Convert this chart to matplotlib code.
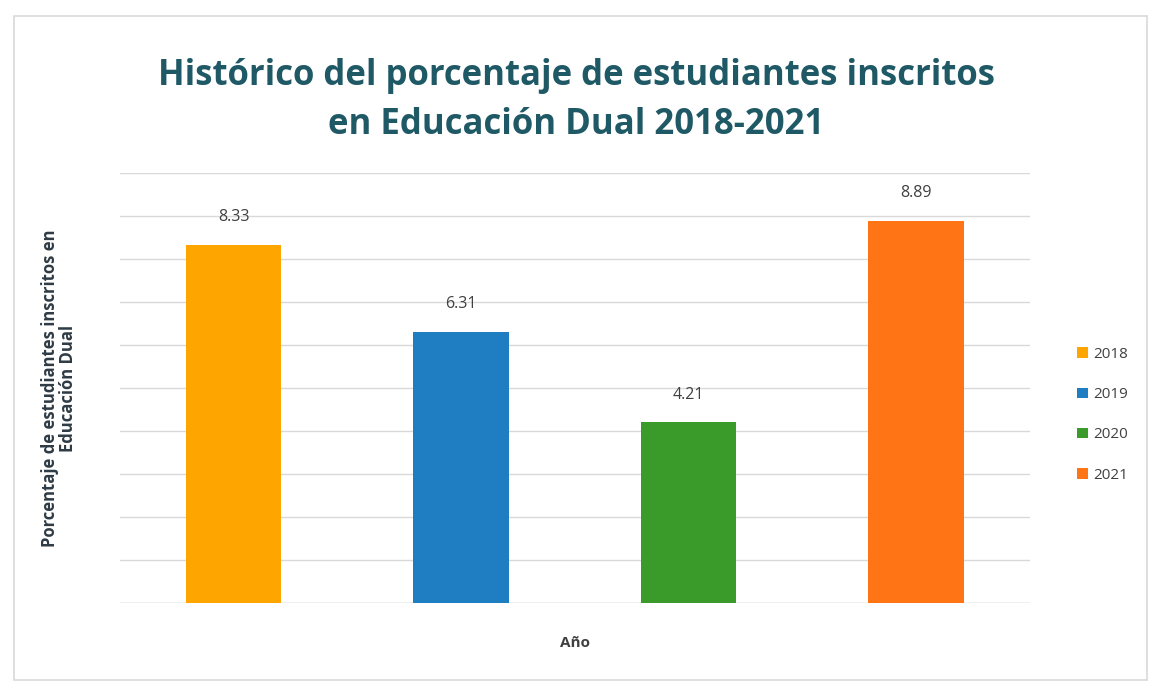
import matplotlib
matplotlib.use("Agg")
import matplotlib.pyplot as plt
from matplotlib.patches import Patch, Rectangle

years = ["2018", "2019", "2020", "2021"]
values = [8.33, 6.31, 4.21, 8.89]
colors = ["#FFA500", "#1F7EC1", "#3A9A2A", "#FF7414"]

plt.rcParams["font.family"] = ["Open Sans", "DejaVu Sans"]

fig = plt.figure(figsize=(11.53, 6.88), dpi=100)
fig.patch.set_facecolor("white")
fig.patches.append(Rectangle((0.012, 0.012), 0.983, 0.965, transform=fig.transFigure,
                             fill=False, edgecolor="#d9d9d9", linewidth=1.2))

ax = fig.add_axes([0.104, 0.1235, 0.789, 0.625])
x = list(range(len(years)))
bars = ax.bar(x, values, width=0.42, color=colors, zorder=3)

for xi, v in zip(x, values):
    ax.text(xi, v + 0.45, f"{v:.2f}", ha="center", va="bottom",
            fontsize=11.5, color="#404040")

ax.set_ylim(0, 10)
ax.set_xlim(-0.5, 3.5)
ax.set_yticks(range(0, 11))
ax.yaxis.grid(True, color="#d9d9d9", linewidth=1, zorder=0)
ax.set_xticks([])
ax.tick_params(axis="y", length=0, labelleft=False)
for s in ax.spines.values():
    s.set_visible(False)
ax.axhline(0, color="#d0d0d0", linewidth=1, zorder=2)

ax.set_xlabel("Año", fontsize=11, fontweight="bold", color="#404040", labelpad=24)
ax.set_ylabel("Porcentaje de estudiantes inscritos en\nEducación Dual", fontsize=12,
              fontweight="bold", color="#2e3b44", linespacing=1.0)
ax.yaxis.set_label_coords(-0.047, 0.5)

fig.suptitle("Histórico del porcentaje de estudiantes inscritos\nen Educación Dual 2018-2021",
             x=0.5, y=0.915, fontsize=25, fontweight="bold", color="#1f5966", linespacing=1.45)

handles = [Patch(facecolor=c, label=y) for c, y in zip(colors, years)]
fig.legend(handles=handles, loc="center left", bbox_to_anchor=(0.922, 0.397),
           frameon=False, fontsize=11, handlelength=0.7, handleheight=0.7,
           handletextpad=0.4, labelspacing=1.65, labelcolor="#404040")

fig.savefig("out.png", dpi=100)
